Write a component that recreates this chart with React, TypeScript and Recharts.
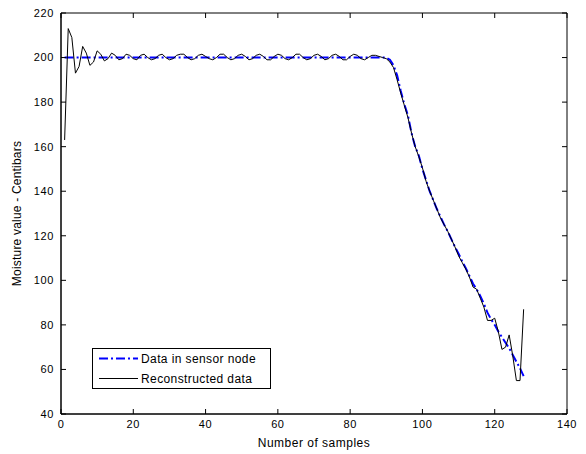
import React from 'react'
import { LineChart, Line, XAxis, YAxis, ReferenceArea } from 'recharts'

// moisture readings, one per sample (1..128)
const sensorNode = [
  200, 200, 200, 200, 200, 200, 200, 200, 200, 200,
  200, 200, 200, 200, 200, 200, 200, 200, 200, 200,
  200, 200, 200, 200, 200, 200, 200, 200, 200, 200,
  200, 200, 200, 200, 200, 200, 200, 200, 200, 200,
  200, 200, 200, 200, 200, 200, 200, 200, 200, 200,
  200, 200, 200, 200, 200, 200, 200, 200, 200, 200,
  200, 200, 200, 200, 200, 200, 200, 200, 200, 200,
  200, 200, 200, 200, 200, 200, 200, 200, 200, 200,
  200, 200, 200, 200, 200, 200, 200, 200, 200, 200,
  199, 196.5, 192, 185, 179, 174, 166, 160, 156, 150,
  145, 140, 136, 132, 128.5, 125, 122, 118.5, 115, 112,
  108.5, 105.5, 102, 98.5, 96, 93, 89.5, 85.5, 82.5, 80,
  77, 74.5, 72, 69.5, 66.5, 63.5, 60.5, 57,
]

const reconstructed = [
  163, 213, 209, 193, 196, 205, 202, 196.5, 198, 203,
  201.5, 198.5, 199.5, 202, 201, 199, 199.5, 201.5, 201, 199.5,
  199, 201, 201.5, 200, 199, 199.5, 201, 201.5, 200, 199,
  199.5, 201, 201.5, 201.5, 200, 199, 199.5, 201, 201.5, 200.5,
  199.5, 199, 200, 201.5, 201.5, 200, 199, 199.5, 201, 201.5,
  200.5, 199, 199.5, 201, 201.5, 200.5, 199, 199, 200.5, 201.5,
  201, 199.5, 199, 200, 201.5, 201.5, 200, 199, 199.5, 201,
  201.5, 200.5, 199, 199.5, 201, 201.5, 200.5, 199, 199, 200.5,
  201.5, 201, 199.5, 199, 200, 201, 201, 200.5, 200, 199.5,
  198, 195.5, 190, 184, 178.5, 173, 166, 160, 155.5, 150.5,
  144.5, 140, 136, 132, 128, 125, 122, 118.5, 115, 111,
  108, 105, 101.5, 97, 96, 92, 88, 82, 82, 83,
  77, 69, 70, 75.5, 66, 55, 55, 87,
]

const xTicks = [0, 20, 40, 60, 80, 100, 120, 140]
const yTicks = [40, 60, 80, 100, 120, 140, 160, 180, 200, 220]

const data = reconstructed.map((r, i) => ({ sample: i + 1, sensor: sensorNode[i], recon: r }))

const FONT = '"Liberation Sans", Arial, sans-serif'
const TICK = 5

// matlab style: tick marks point into the plot box, on all four sides
const BottomTick = ({ x, y, payload }: any) => (
  <g>
    <path d={`M${x},${y}V${y - TICK}M${x},13V${13 + TICK}`} stroke="#000" strokeWidth={1} fill="none" />
    <text x={x} y={y + 6} dy="0.71em" textAnchor="middle" fontSize={11} letterSpacing={0.6} fontFamily={FONT} fill="#000">
      {payload.value}
    </text>
  </g>
)
const LeftTick = ({ x, y, payload }: any) => (
  <g>
    <path d={`M${x},${y}H${x + TICK}M567,${y}H${567 - TICK}`} stroke="#000" strokeWidth={1} fill="none" />
    <text x={x - 7} y={y} dy="0.355em" textAnchor="end" fontSize={11} letterSpacing={0.6} fontFamily={FONT} fill="#000">
      {payload.value}
    </text>
  </g>
)

export default function App() {
  return (
    <div style={{ position: 'absolute', left: 0, top: 0, width: 586, height: 454, background: '#fff' }}>
      <LineChart width={586} height={454} data={data} margin={{ top: 13, right: 19, bottom: 0, left: 0 }}>
        <XAxis
          xAxisId="b"
          dataKey="sample"
          type="number"
          domain={[0, 140]}
          ticks={xTicks}
          height={40}
          tickSize={0}
          tickMargin={0}
          tickLine={false}
          tick={BottomTick}
          stroke="#000"
          interval={0}
          label={{
            value: 'Number of samples',
            position: 'insideBottom',
            offset: 7,
            fill: '#000',
            fontSize: 12,
            fontFamily: FONT,
            style: { letterSpacing: 0.5 },
          }}
        />
        <YAxis
          yAxisId="l"
          type="number"
          domain={[40, 220]}
          ticks={yTicks}
          width={61}
          tickSize={0}
          tickMargin={0}
          tickLine={false}
          tick={LeftTick}
          stroke="#000"
          interval={0}
          label={{
            value: 'Moisture value - Centibars',
            angle: -90,
            position: 'insideLeft',
            offset: 17,
            fill: '#000',
            fontSize: 12,
            fontFamily: FONT,
            style: { textAnchor: 'middle', letterSpacing: 0.2 },
          }}
        />
        <ReferenceArea
          xAxisId="b"
          yAxisId="l"
          x1={0}
          x2={140}
          y1={40}
          y2={220}
          fill="none"
          fillOpacity={0}
          stroke="#000"
          strokeWidth={1}
          strokeOpacity={1}
          ifOverflow="visible"
        />
        <Line
          xAxisId="b"
          yAxisId="l"
          type="linear"
          dataKey="sensor"
          stroke="#0000ff"
          strokeWidth={2}
          strokeDasharray="9 3 2 3"
          dot={false}
          isAnimationActive={false}
        />
        <Line
          xAxisId="b"
          yAxisId="l"
          type="linear"
          dataKey="recon"
          stroke="#000"
          strokeWidth={1}
          dot={false}
          isAnimationActive={false}
        />
      </LineChart>
      <svg width={180} height={42} style={{ position: 'absolute', left: 92, top: 348 }}>
        <rect x={0.5} y={0.5} width={178} height={40} fill="#fff" stroke="#000" />
        <line x1={7} x2={46} y1={10.5} y2={10.5} stroke="#0000ff" strokeWidth={2} strokeDasharray="9 3 2 3" />
        <text x={49} y={14.5} fontSize={12} letterSpacing={0.4} fontFamily={FONT} fill="#000">Data in sensor node</text>
        <line x1={7} x2={46} y1={30.5} y2={30.5} stroke="#000" strokeWidth={1} />
        <text x={49} y={34.5} fontSize={12} letterSpacing={0.4} fontFamily={FONT} fill="#000">Reconstructed data</text>
      </svg>
    </div>
  )
}
